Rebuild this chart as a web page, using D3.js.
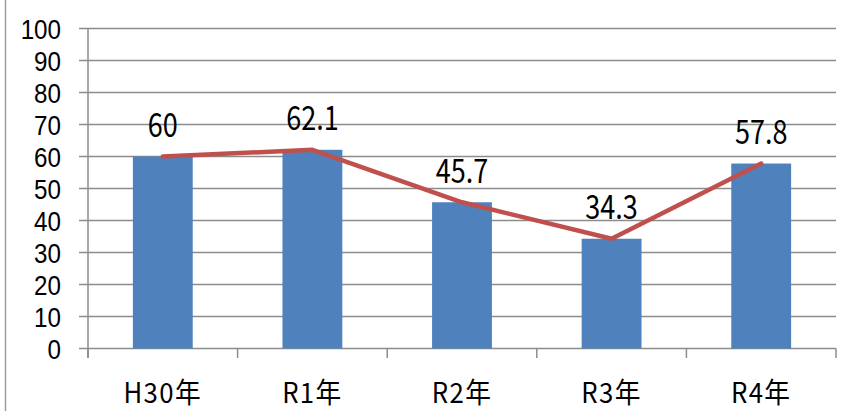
<!DOCTYPE html>
<html><head><meta charset="utf-8">
<script src="https://cdn.jsdelivr.net/npm/d3@7"></script>
<style>body{margin:0;background:#fff;} text{font-family:"Noto Sans CJK JP","Noto Sans",sans-serif;} text.yl{font-family:"Liberation Sans",Arial,sans-serif;}</style>
</head><body><svg id="c" width="846" height="411"></svg>
<script>
const categories = ["H30年","R1年","R2年","R3年","R4年"];
const values = [60, 62.1, 45.7, 34.3, 57.8];
const yTicks = [0,10,20,30,40,50,60,70,80,90,100];

const svg = d3.select("#c");
const x0 = 88, x1 = 836, yTop = 28.5, yBot = 348.5;
const x = d3.scaleBand().domain(categories).range([x0, x1]).paddingInner(0.6).paddingOuter(0.3);
const xc = d3.scalePoint().domain(categories).range([x0, x1]).padding(0.5);
const y = d3.scaleLinear().domain([0,100]).range([yBot, yTop]);

// outer border
svg.append("line").attr("x1",5.5).attr("x2",5.5).attr("y1",0).attr("y2",411).attr("stroke","#a0a0a0").attr("stroke-width",1.5);

// gridlines
svg.append("g").selectAll("line").data(yTicks).join("line")
  .attr("x1",79).attr("x2",x1).attr("y1",d=>y(d)).attr("y2",d=>y(d))
  .attr("stroke","#8c8c8c").attr("stroke-width",1.5);

// y labels
svg.append("g").selectAll("text").data(yTicks).join("text")
  .attr("class","yl")
  .attr("transform",d=>`translate(61,${y(d)+10}) scale(0.88,1)`).attr("text-anchor","end")
  .attr("font-size",27.5).attr("fill","#000").text(d=>d);

// bars
svg.append("g").selectAll("rect").data(values).join("rect")
  .attr("x",(d,i)=>x(categories[i])).attr("width",x.bandwidth())
  .attr("y",d=>y(d)).attr("height",d=>y(0)-y(d)).attr("fill","#4F81BD");

// axes lines
svg.append("line").attr("x1",x0).attr("x2",x0).attr("y1",yTop).attr("y2",358).attr("stroke","#8c8c8c").attr("stroke-width",1.5);
const bw = (x1-x0)/categories.length;
svg.append("g").selectAll("line").data(d3.range(categories.length+1)).join("line")
  .attr("x1",i=>x0+i*bw).attr("x2",i=>x0+i*bw).attr("y1",yBot).attr("y2",358)
  .attr("stroke","#8c8c8c").attr("stroke-width",1.5);

// x labels
svg.append("g").selectAll("text").data(categories).join("text")
  .attr("transform",d=>`translate(${xc(d)},403) scale(0.92,1)`).attr("text-anchor","middle")
  .attr("font-size",28).attr("letter-spacing",1.5).attr("fill","#000").text(d=>d);

// line
const line = d3.line().x((d,i)=>xc(categories[i])).y(d=>y(d));
svg.append("path").datum(values).attr("d",line).attr("fill","none")
  .attr("stroke","#C0504D").attr("stroke-width",4.5).attr("stroke-linecap","round").attr("stroke-linejoin","round");

// data labels
svg.append("g").selectAll("text").data(values).join("text")
  .attr("transform",(d,i)=>`translate(${xc(categories[i])},${y(d)-19.5}) scale(0.82,1)`).attr("text-anchor","middle")
  .attr("font-size",33).attr("fill","#000").text(d=>d);
</script></body></html>
